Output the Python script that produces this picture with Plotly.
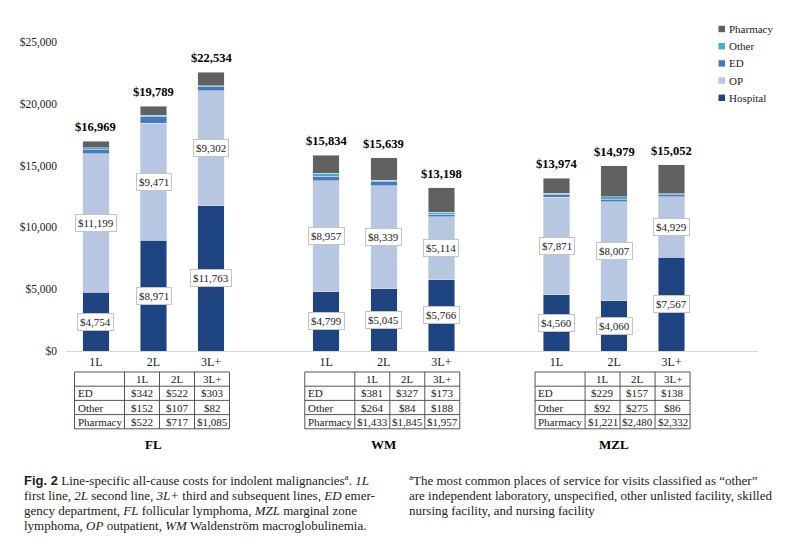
import plotly.graph_objects as go

groups = ['FL', 'WM', 'MZL']
lines = ['1L', '2L', '3L+']
table_rows = ['ED', 'Other', 'Pharmacy']

hospital = [[4754, 8971, 11763], [4799, 5045, 5766], [4560, 4060, 7567]]
op = [[11199, 9471, 9302], [8957, 8339, 5114], [7871, 8007, 4929]]
ed = [[342, 522, 303], [381, 327, 173], [229, 157, 138]]
other = [[152, 107, 82], [264, 84, 188], [92, 275, 86]]
pharmacy = [[522, 717, 1085], [1433, 1845, 1957], [1221, 2480, 2332]]
totals = [[16969, 19789, 22534], [15834, 15639, 13198], [13974, 14979, 15052]]

W, H = 800, 549
SERIF = 'Liberation Serif, Times New Roman, serif'
INK = '#222'

# bar slots: 3 lines per group, one blank slot between groups
xs = [g * 4 + i for g in range(len(groups)) for i in range(len(lines))]
flat = lambda a: [v for row in a for v in row]
money = lambda v: '${:,}'.format(v)
px = lambda v: v / W          # pixel -> paper x
py = lambda v: 1 - v / H      # pixel -> paper y

X0, X1 = 66, 758
XR = [-0.52, 11.5]
x_px = lambda v: X0 + (v - XR[0]) / (XR[1] - XR[0]) * (X1 - X0)

series = [
    ('Hospital', hospital, '#1d4380'),
    ('OP', op, '#b7c7e1'),
    ('ED', ed, '#4a78bd'),
    ('Other', other, '#4aa9c9'),
    ('Pharmacy', pharmacy, '#616161'),
]

fig = go.Figure()
for name, vals, col in series:
    fig.add_trace(go.Bar(x=xs, y=flat(vals), name=name, marker_color=col, width=0.46,
                         showlegend=False))

annos = []
shapes = []

# compact legend, top item first (Pharmacy)
for k, (name, _, col) in enumerate(reversed(series)):
    yc = 29 + k * 17.2
    shapes.append(dict(type='rect', xref='paper', yref='paper', x0=px(718.5), x1=px(725),
                       y0=py(yc + 3.2), y1=py(yc - 3.2), fillcolor=col, line=dict(width=0)))
    annos.append(dict(x=px(727), y=py(yc), xref='paper', yref='paper', xanchor='left',
                      yanchor='middle', text=name, showarrow=False,
                      font=dict(family=SERIF, size=11, color=INK)))

for x, t in zip(xs, flat(totals)):
    annos.append(dict(x=x, y=t, xref='x', yref='y', text='<b>%s</b>' % money(t), showarrow=False,
                      yanchor='bottom', yshift=5, font=dict(family=SERIF, size=12.5, color='black')))

for x, h, o in zip(xs, flat(hospital), flat(op)):
    for yv, v in ((h / 2, h), (h + o / 2, o)):
        annos.append(dict(x=x, y=yv, xref='x', yref='y', text=money(v), showarrow=False,
                          bgcolor='white', bordercolor='#c4c4c4', borderwidth=1, borderpad=2,
                          font=dict(family=SERIF, size=11, color=INK)))

# small tables under each group, drawn with lines and text
col_w = [50, 35, 35, 35]
row_top, row_h = 372, 14.2
for g in range(len(groups)):
    left = x_px(g * 4 + 1) - sum(col_w) / 2 - 1.5
    edges = [left]
    for w in col_w:
        edges.append(edges[-1] + w)
    ys = [row_top + k * row_h for k in range(5)]
    for e in edges:
        shapes.append(dict(type='line', xref='paper', yref='paper', x0=px(e), x1=px(e),
                           y0=py(ys[0]), y1=py(ys[-1]), line=dict(color='#555', width=1)))
    for yy in ys:
        shapes.append(dict(type='line', xref='paper', yref='paper', x0=px(edges[0]), x1=px(edges[-1]),
                           y0=py(yy), y1=py(yy), line=dict(color='#555', width=1)))
    rows = [[''] + lines]
    for r, vals in zip(table_rows, (ed[g], other[g], pharmacy[g])):
        rows.append([r] + [money(v) for v in vals])
    for ri, row in enumerate(rows):
        yc = ys[ri] + row_h / 2
        for ci, txt in enumerate(row):
            if not txt:
                continue
            if ci == 0:
                a = dict(x=px(edges[0] + 1), xanchor='left')
            else:
                a = dict(x=px((edges[ci] + edges[ci + 1]) / 2), xanchor='center')
            a.update(y=py(yc), yanchor='middle', xref='paper', yref='paper', text=txt,
                     showarrow=False, font=dict(family=SERIF, size=11, color=INK))
            annos.append(a)
    annos.append(dict(x=g * 4 + 1, y=py(444), xref='x', yref='paper', text='<b>%s</b>' % groups[g],
                      showarrow=False, yanchor='middle', font=dict(family=SERIF, size=13, color='black')))

cap_left = [
    '<b><span style="font-family:Liberation Sans, Arial">Fig. 2</span></b> '
    'Line-specific all-cause costs for indolent malignancies<sup>a</sup>. <i>1L</i>',
    'first line, <i>2L</i> second line, <i>3L+</i> third and subsequent lines, <i>ED</i> emer-',
    'gency department, <i>FL</i> follicular lymphoma, <i>MZL</i> marginal zone',
    'lymphoma, <i>OP</i> outpatient, <i>WM</i> Waldenström macroglobulinemia.',
]
cap_right = [
    '<sup>a</sup>The most common places of service for visits classified as \u201cother\u201d',
    'are independent laboratory, unspecified, other unlisted facility, skilled',
    'nursing facility, and nursing facility',
]
for xl, block in ((22, cap_left), (407, cap_right)):
    for k, txt in enumerate(block):
        annos.append(dict(x=px(xl), y=py(480 + k * 15.3), xref='paper', yref='paper',
                          xanchor='left', yanchor='middle', align='left', text=txt,
                          showarrow=False, font=dict(family=SERIF, size=13, color=INK)))

fig.update_layout(
    width=W, height=H, barmode='stack', plot_bgcolor='white', paper_bgcolor='white',
    margin=dict(l=0, r=0, t=0, b=0), showlegend=False,
    xaxis=dict(domain=[px(X0), px(X1)], range=XR, tickvals=xs,
               ticktext=lines * len(groups), showgrid=False, zeroline=False,
               showline=True, linecolor='#d9d9d9', ticks='', automargin=False,
               tickfont=dict(family=SERIF, size=12, color=INK)),
    yaxis=dict(domain=[py(351), py(42)], range=[0, 25000], dtick=5000,
               tickprefix='$', tickformat=',d', showgrid=False, zeroline=False,
               showline=False, automargin=False, ticklabelstandoff=8,
               tickfont=dict(family=SERIF, size=11.5, color=INK)),
    annotations=annos,
    shapes=shapes,
)

fig.write_html('out.html', config={'displayModeBar': False},
               post_script="document.body.style.margin='0px';")
